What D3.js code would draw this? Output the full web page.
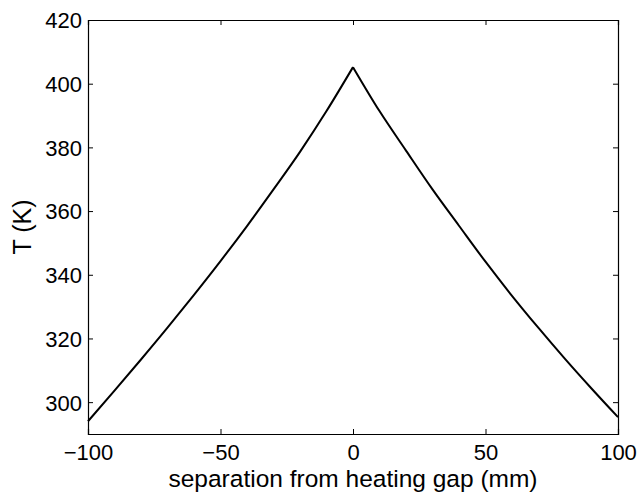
<!DOCTYPE html>
<html>
<head>
<meta charset="utf-8">
<script src="https://cdn.jsdelivr.net/npm/d3@7"></script>
<style>
  html, body { margin: 0; padding: 0; background: #fff; }
  svg { display: block; }
  text { font-family: "Liberation Sans", Arial, Helvetica, sans-serif; fill: #000; }
</style>
</head>
<body>
<svg id="chart" width="638" height="492"></svg>
<script>
// Data
const separation = [-100, -90, -80, -70, -60, -50, -40, -30, -20, -10, 0, 10, 20, 30, 40, 50, 60, 70, 80, 90, 100];
const temperature = [294.0, 303.6, 313.4, 323.4, 333.7, 344.3, 355.3, 366.8, 378.6, 391.4, 405.2,
                     391.4, 379.0, 366.8, 355.4, 344.1, 333.4, 323.3, 313.6, 304.3, 295.3];
const xTicks = [-100, -50, 0, 50, 100];
const yTicks = [300, 320, 340, 360, 380, 400, 420];
const xLabel = "separation from heating gap (mm)";
const yLabel = "T (K)";

const svg = d3.select("#chart");
const L = 88, R = 618, T = 20, B = 434;

const x = d3.scaleLinear().domain([-100, 100]).range([L, R]);
const y = d3.scaleLinear().domain([290, 420]).range([B, T]);

const fmt = d => (d < 0 ? "\u2212" + Math.abs(d) : String(d));

// Bottom axis (ticks inward)
const gB = svg.append("g").attr("transform", `translate(0,${B})`)
  .call(d3.axisBottom(x).tickValues(xTicks).tickSize(-5).tickPadding(0).tickFormat(fmt));
gB.selectAll("text").attr("font-size", 22).attr("dy", null).attr("y", 25.5);
// Top axis
svg.append("g").attr("transform", `translate(0,${T})`)
  .call(d3.axisTop(x).tickValues(xTicks).tickSize(-5).tickFormat(""));
// Left axis
const gL = svg.append("g").attr("transform", `translate(${L},0)`)
  .call(d3.axisLeft(y).tickValues(yTicks).tickSize(-5).tickPadding(0).tickFormat(fmt));
gL.selectAll("text").attr("font-size", 22).attr("x", -6).attr("dy", "0.36em");
// Right axis
svg.append("g").attr("transform", `translate(${R},0)`)
  .call(d3.axisRight(y).tickValues(yTicks).tickSize(-5).tickFormat(""));

svg.selectAll(".domain").attr("stroke", "#000").attr("stroke-width", 1.2);
svg.selectAll(".tick line").attr("stroke", "#000").attr("stroke-width", 1);
svg.selectAll(".tick text").attr("font-family", "'Liberation Sans', Arial, sans-serif").attr("fill", "#000");

// Line: two smooth branches meeting at a sharp peak
const pts = separation.map((s, i) => [s, temperature[i]]);
const peakIdx = temperature.indexOf(d3.max(temperature));
const line = d3.line().x(d => x(d[0])).y(d => y(d[1])).curve(d3.curveMonotoneX);
[pts.slice(0, peakIdx + 1), pts.slice(peakIdx)].forEach(seg => {
  svg.append("path")
    .datum(seg)
    .attr("d", line)
    .attr("fill", "none")
    .attr("stroke", "#000")
    .attr("stroke-width", 2)
    .attr("stroke-linejoin", "miter");
});

// Axis titles
svg.append("text")
  .attr("x", (L + R) / 2).attr("y", 486.8)
  .attr("text-anchor", "middle")
  .attr("font-size", 24.5)
  .text(xLabel);

svg.append("text")
  .attr("transform", `translate(31,${(T + B) / 2}) rotate(-90)`)
  .attr("text-anchor", "middle")
  .attr("font-size", 25)
  .text(yLabel);
</script>
</body>
</html>
